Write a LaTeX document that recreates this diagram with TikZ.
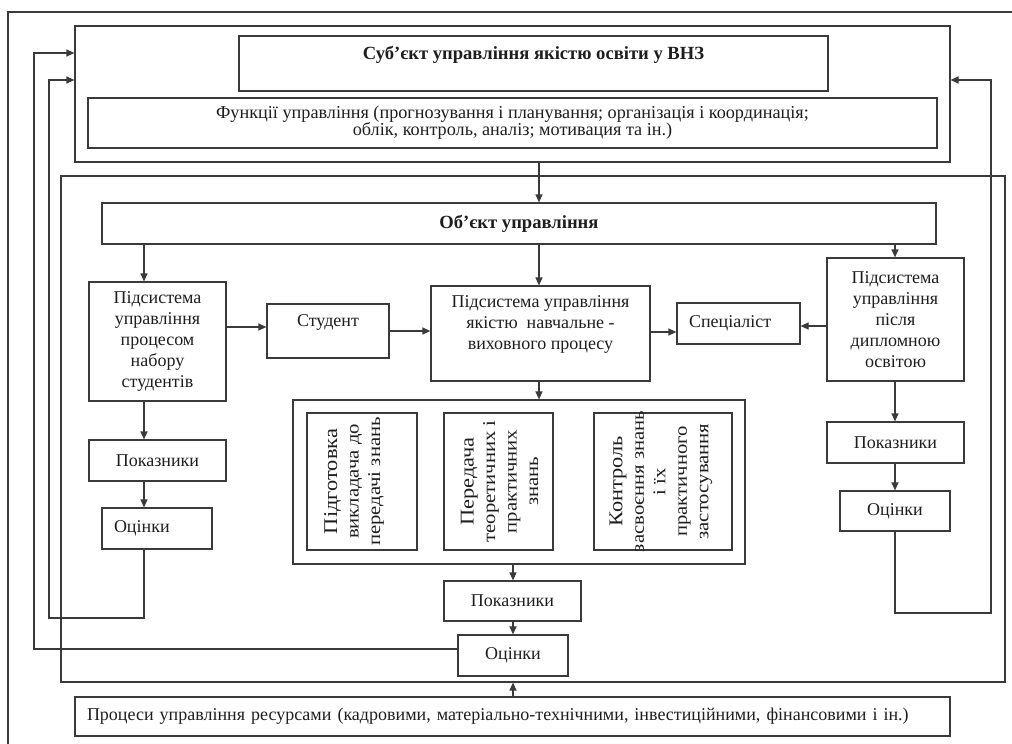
\documentclass[tikz,border=0pt]{standalone}
\usepackage{fontspec}
\setmainfont{Liberation Serif}
\newfontfamily\widefam[FakeStretch=1.15]{Liberation Serif}
\usetikzlibrary{arrows.meta}
\definecolor{lc}{HTML}{3A3A3A}
\definecolor{tc}{HTML}{1E1E1E}
\newcommand{\nfnt}{\fontsize{18}{21}\selectfont}
\newcommand{\bfnt}{\fontsize{18.6}{21}\selectfont\bfseries}
\newcommand{\ffnt}{\fontsize{18.2}{17}\selectfont}
\newcommand{\rfnt}{\widefam\fontsize{18}{21.5}\selectfont}
\newcommand{\lfnt}{\fontsize{19.5}{21}\selectfont}
\begin{document}
\begin{tikzpicture}[x=1pt,y=-1pt,
  box/.style={draw=lc,line width=1.2pt,inner sep=0pt,align=center,text=tc,font=\nfnt},
  rtext/.style={rotate=90,align=center,text=tc,font=\rfnt,inner sep=0pt},
  arr/.style={draw=lc,line width=1.2pt,-{Triangle[length=8pt,width=7pt]}},
  ln/.style={draw=lc,line width=1.2pt}]
\useasboundingbox (0,0) rectangle (1012,744);
% outer frame (partial)
\draw[ln] (8,744) -- (8,12) -- (1012,12);
% subject block
\node[box,minimum width=875,minimum height=136] (subj) at (512.5,94) {};
\node[box,minimum width=589,minimum height=55,font=\bfnt] (title) at (533.5,63.5) {Суб’єкт управління якістю освіти у ВНЗ\\\mbox{}};
\node[box,minimum width=849,minimum height=50,font=\ffnt] (func) at (512.5,123) {Функції управління (прогнозування і планування; організація і координація;\\облік, контроль, аналіз; мотивация та ін.)};
% object frame
\node[box,minimum width=944,minimum height=506] (objf) at (533,429) {};
\node[box,minimum width=834,minimum height=41,font=\bfnt] (obj) at (519,223.5) {Об’єкт управління};
\node[box,minimum width=137,minimum height=119] (lsub) at (157.5,341.5) {Підсистема\\управління\\процесом\\набору\\студентів};
\node[box,minimum width=122,minimum height=54] (stud) at (328,331) {Студент\\\mbox{}};
\node[box,minimum width=219,minimum height=95] (mid) at (540.5,333.5) {Підсистема управління\\якістю\ \ навчальне -\\виховного процесу\\\mbox{}};
\node[box,minimum width=123,minimum height=41,inner xsep=12pt,text width=99pt,align=left] (spec) at (738.5,323.5) {Спеціаліст};
\node[box,minimum width=137,minimum height=123] (rsub) at (895.5,319.5) {Підсистема\\управління\\після\\дипломною\\освітою};
% activities
\node[box,minimum width=452,minimum height=164] (act) at (519,482) {};
\node[box,minimum width=110,minimum height=137] (b1) at (362,481.5) {};
\node[box,minimum width=109,minimum height=137] (b2) at (498.5,481.5) {};
\node[box,minimum width=138,minimum height=137] (b3) at (663,481.5) {};
\node[rtext] (t1) at ([xshift=-8pt]b1.center) {{\lfnt Підготовка}\\викладача до\\передачі знань};
\node[rtext] (t2) at ([xshift=1pt]b2.center) {{\lfnt Передача}\\теоретичних і\\практичних\\знань};
\node[rtext] (t3) at ([xshift=-2pt]b3.center) {{\lfnt Контроль}\\засвоєння знань\\і їх\\практичного\\застосування};
% indicators and estimates
\node[box,minimum width=137,minimum height=41] (lpok) at (157.5,460.5) {Показники};
\node[box,minimum width=110,minimum height=41,inner xsep=12pt,text width=86pt,align=left] (locin) at (157,528.5) {Оцінки};
\node[box,minimum width=137,minimum height=40] (cpok) at (512.5,601) {Показники};
\node[box,minimum width=110,minimum height=41] (cocin) at (513,655.5) {Оцінки};
\node[box,minimum width=137,minimum height=41] (rpok) at (895.5,442.5) {Показники};
\node[box,minimum width=110,minimum height=40] (rocin) at (895,511) {Оцінки};
% resources
\node[box,minimum width=875,minimum height=39,inner xsep=12pt,text width=851pt,align=left] (res) at (512.5,716.5) {Процеси управління ресурсами (кадровими, матеріально-технічними, інвестиційними, фінансовими і ін.)};
% columns
\coordinate (cL) at (144,0);
\coordinate (cM) at (539,0);
\coordinate (cC) at (513,0);
\coordinate (cR) at (895,0);
% arrows
\draw[arr] (cM |- subj.south) -- (cM |- obj.north);
\draw[arr] (cL |- obj.south) -- (cL |- lsub.north);
\draw[arr] (cM |- obj.south) -- (cM |- mid.north);
\draw[arr] (cR |- obj.south) -- (cR |- rsub.north);
\draw[arr] ([yshift=14.5pt]lsub.east) -- ([yshift=14.5pt]lsub.east -| stud.west);
\draw[arr] (stud.east) -- (stud.east -| mid.west);
\draw[arr] ([yshift=1.5pt]mid.east) -- ([yshift=1.5pt]mid.east -| spec.west);
\draw[arr] ([yshift=-6.5pt]rsub.west) -- ([yshift=-6.5pt]rsub.west -| spec.east);
\draw[arr] (cM |- mid.south) -- (cM |- act.north);
\draw[arr] (cL |- lsub.south) -- (cL |- lpok.north);
\draw[arr] (cL |- lpok.south) -- (cL |- locin.north);
\draw[arr] (cR |- rsub.south) -- (cR |- rpok.north);
\draw[arr] (cR |- rpok.south) -- (cR |- rocin.north);
\draw[arr] (cC |- act.south) -- (cC |- cpok.north);
\draw[arr] (cC |- cpok.south) -- (cC |- cocin.north);
\draw[arr] (cC |- res.north) -- (cC |- objf.south);
% feedback loops
\coordinate (fa1) at (49,618);
\coordinate (fa2) at (49,80);
\coordinate (fb1) at (34,53);
\coordinate (fr1) at (991,613);
\coordinate (fr2) at (991,80);
\draw[arr] (cL |- locin.south) |- (fa1) -- (fa2) -- ([yshift=14pt]subj.west);
\draw[arr] ([yshift=6.5pt]cocin.west) -| (fb1) -- ([yshift=41pt]subj.west);
\draw[arr] (cR |- rocin.south) |- (fr1) -- (fr2) -- ([yshift=14pt]subj.east);
\end{tikzpicture}
\end{document}
